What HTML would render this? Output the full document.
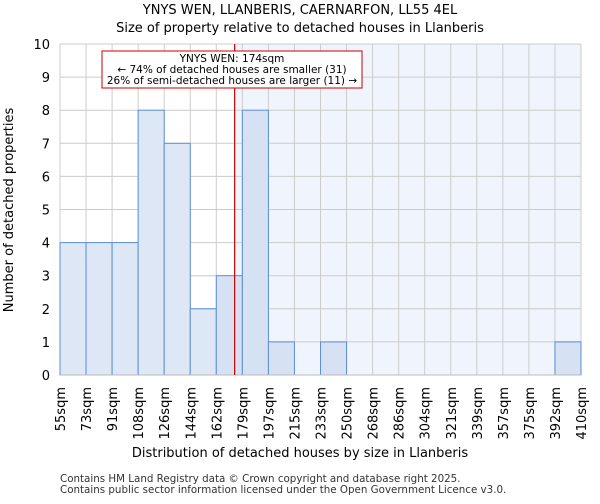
<!DOCTYPE html>
<html><head><meta charset="utf-8"><style>
body{margin:0;background:#fff;font-family:"DejaVu Sans","Liberation Sans",sans-serif;}
svg text{font-family:"DejaVu Sans","Liberation Sans",sans-serif;}
</style></head><body>
<svg id="c" width="600" height="500" xmlns="http://www.w3.org/2000/svg">
<text x="300" y="14" text-anchor="middle" font-size="13">YNYS WEN, LLANBERIS, CAERNARFON, LL55 4EL</text>
<text x="300" y="32" text-anchor="middle" font-size="13">Size of property relative to detached houses in Llanberis</text>
<g id="plot"></g>
<text x="300" y="457" text-anchor="middle" font-size="13">Distribution of detached houses by size in Llanberis</text>
<text transform="translate(13,210) rotate(-90)" text-anchor="middle" font-size="13">Number of detached properties</text>
<text x="60" y="482" font-size="10.3" fill="#333">Contains HM Land Registry data © Crown copyright and database right 2025.</text>
<text x="60" y="493" font-size="10.3" fill="#333">Contains public sector information licensed under the Open Government Licence v3.0.</text>
</svg>
<script>
const binLabels=["55sqm","73sqm","91sqm","108sqm","126sqm","144sqm","162sqm","179sqm","197sqm","215sqm","233sqm","250sqm","268sqm","286sqm","304sqm","321sqm","339sqm","357sqm","375sqm","392sqm","410sqm"];
const counts=[4,4,4,8,7,2,3,8,1,0,1,0,0,0,0,0,0,0,0,1];
const yTicks=[0,1,2,3,4,5,6,7,8,9,10];
const minSize=55, maxSize=410, propertySize=174;
const X0=60,X1=581,Y0=375,Y1=44,YMAX=10;
const ns="http://www.w3.org/2000/svg";
const g=document.getElementById('plot');
const n=counts.length;
function xb(i){return X0+(X1-X0)*i/n;}
function xs(v){return X0+(X1-X0)*(v-minSize)/(maxSize-minSize);}
function y(v){return Y0-(Y0-Y1)*v/YMAX;}
function mk(t,a){const e=document.createElementNS(ns,t);for(const k in a)e.setAttribute(k,a[k]);g.appendChild(e);return e;}
const px=xs(propertySize);
let e=mk('rect',{x:px,y:Y1,width:X1-px,height:Y0-Y1,fill:'#f0f4fc'});


yTicks.forEach(t=>{
 let l=mk('line',{x1:X0,x2:X1,y1:y(t),y2:y(t),stroke:'#ccc','stroke-width':1});
 
 
 let tx=mk('text',{x:X0-10,y:y(t)+5,'text-anchor':'end','font-size':13});
 tx.textContent=t;
 
 
});
binLabels.forEach((s,i)=>{
 let l=mk('line',{x1:xb(i),x2:xb(i),y1:Y1,y2:Y0,stroke:'#ccc','stroke-width':1});
 
 
 let tx=mk('text',{transform:`translate(${xb(i)+5},387) rotate(-90)`,'text-anchor':'end','font-size':13});
 tx.textContent=s;
 
 
});
counts.forEach((c,i)=>{
 if(c<=0)return;
 const left=xb(i+1)<=px+1;
 let r=mk('rect',{x:xb(i),y:y(c),width:xb(i+1)-xb(i),height:Y0-y(c),fill:left?'#dee7f5':'#d6e2f3',stroke:'#5b8fd6','stroke-width':1});
 
 
});
let ax=mk('line',{x1:X0,x2:X1,y1:Y0,y2:Y0,stroke:'#bbb','stroke-width':1});


let ml=mk('line',{x1:px,x2:px,y1:Y1,y2:Y0,stroke:'#cc0000','stroke-width':1.2});


let box=mk('rect',{x:102,y:51,width:260,height:37,fill:'#fff',stroke:'#cc0000','stroke-width':1});


["YNYS WEN: 174sqm","← 74% of detached houses are smaller (31)","26% of semi-detached houses are larger (11) →"].forEach((s,i)=>{
 let t=mk('text',{x:232,y:62+i*11,'text-anchor':'middle','font-size':10.5});
 t.textContent=s;
 
 
});
</script>
</body></html>
